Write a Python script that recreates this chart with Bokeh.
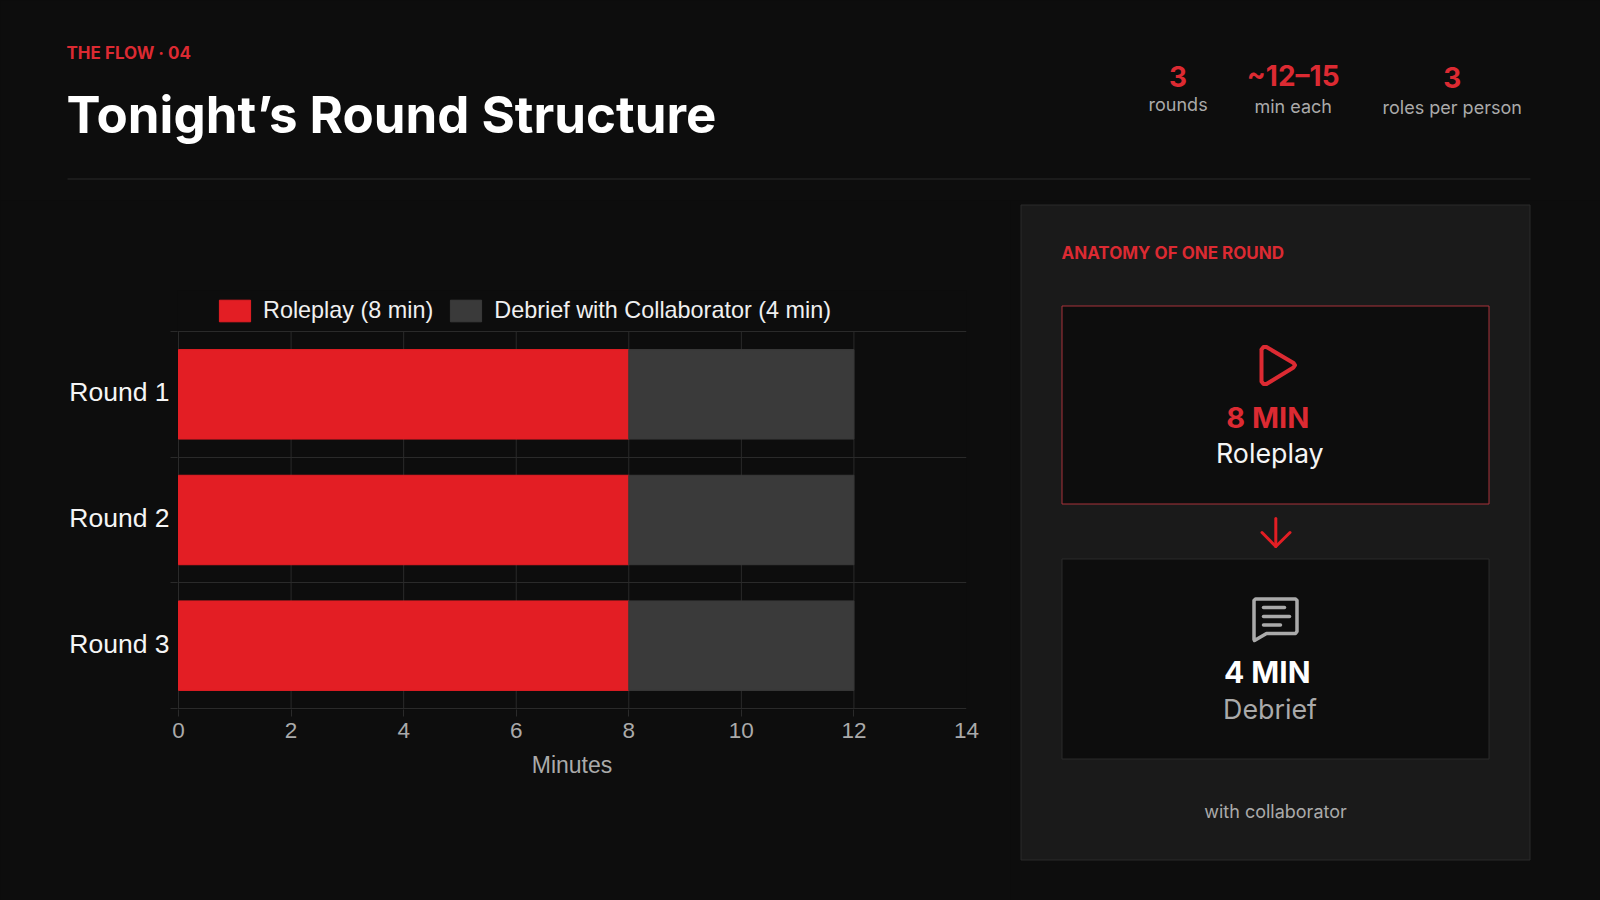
from bokeh.core.properties import value
from bokeh.embed import file_html
from bokeh.layouts import column, row
from bokeh.resources import INLINE
from bokeh.plotting import figure
from bokeh.models import ColumnDataSource, Range1d, FixedTicker, Legend, LegendItem, Grid

ROUNDS = ["Round 1", "Round 2", "Round 3"]
ROLEPLAY = [8, 8, 8]
DEBRIEF = [4, 4, 4]
X_TICKS = [0, 2, 4, 6, 8, 10, 12, 14]
X_GRID = [0, 2, 4, 6, 8, 10, 12]
LEGEND = ["Roleplay (8 min)", "Debrief with Collaborator (4 min)"]
STATS = [("3", "rounds"), ("~12–15", "min each"), ("3", "roles per person")]

BG = "#0d0d0d"; PANEL = "#1a1a1a"; GRID = "#2a2a2a"; RED = "#e31e24"; TRED = "#dc2a32"
DARK = "#3a3a3a"; MUTED = "#aaaaaa"; WHITE = "#ffffff"
HEAD_H = 200
SPLIT = 1010


def canvas(x0, x1, y0, y1):
    """A decoration figure whose data coordinates are page pixels."""
    f = figure(width=x1 - x0, height=y1 - y0, output_backend="svg", toolbar_location=None,
               x_range=Range1d(x0, x1), y_range=Range1d(y1, y0), x_axis_location=None, y_axis_location=None,
               min_border=0, background_fill_color=BG, border_fill_color=BG, outline_line_color=None,
               frame_align=False)
    f.grid.visible = False
    return f


def text(f, x, y, t, size, color, style="normal", align="left", font="Inter"):
    f.text(x=[x], y=[y], text=[t], text_font=value(font), text_font_size=value(f"{size}px"),
           text_font_style=style, text_color=color, text_align=align, text_baseline="middle")


def box(f, l, t, r_, b, fill, line, lw=1):
    f.quad(left=[l], right=[r_], top=[t], bottom=[b], fill_color=fill, line_color=line, line_width=lw)


def stroke(f, xs, ys, color, lw):
    f.line(xs, ys, line_color=color, line_width=lw, line_join="round", line_cap="round")


# header
head = canvas(0, 1600, 0, HEAD_H)
text(head, 66, 52.5, "THE FLOW · 04", 17, TRED, "bold")
text(head, 66, 114, "Tonight’s Round Structure", 51, WHITE, "bold")
box(head, 67, 178, 1530, 179, GRID, None, 0)
for (cx, vy, ly), (v, l) in zip([(1177.6, 75.5, 104), (1292.7, 75.5, 105.7), (1451.7, 76.5, 107.3)], STATS):
    text(head, cx, vy, v, 28, TRED, "bold", "center")
    text(head, cx, ly, l, 18, MUTED, "normal", "center")

# chart: the frame starts above the first band so that the legend can sit inside it,
# and ends just past the last band and left of zero so that the edge lines are not clipped
BAND_TOP = -0.3263
BAND_END = 3.008
X_START = -0.018
LABEL_NUDGE = 0.016
src = ColumnDataSource(dict(y=[i + 0.5 for i in range(len(ROUNDS))], rp=ROLEPLAY, db=DEBRIEF))
p = figure(width=SPLIT, height=900 - HEAD_H, output_backend="svg", toolbar_location=None,
           x_range=Range1d(X_START, 14), y_range=Range1d(BAND_END, BAND_TOP),
           min_border_left=177, min_border_right=44, min_border_top=90, min_border_bottom=191,
           background_fill_color=BG, border_fill_color=BG, outline_line_color=None,
           x_axis_label="Minutes", frame_align=False)
p.grid.visible = False
p.segment(x0=X_GRID, x1=X_GRID, y0=[0] * len(X_GRID), y1=[len(ROUNDS)] * len(X_GRID), line_color=GRID, level="underlay")
r = p.hbar_stack(["rp", "db"], y="y", height=0.712, color=[RED, DARK], source=src)
p.add_layout(Grid(dimension=1, ticker=FixedTicker(ticks=[], minor_ticks=[0, 1, 2, 3]), grid_line_color=None,
                  minor_grid_line_color=GRID, level="underlay"))
xa = p.xaxis[0]
xa.ticker = FixedTicker(ticks=X_TICKS, minor_ticks=X_GRID)
xa.axis_line_color = None
xa.major_tick_line_color = None
xa.minor_tick_line_color = GRID
xa.minor_tick_out = 7; xa.minor_tick_in = 0
xa.major_label_text_color = MUTED
xa.major_label_text_font = "Liberation Sans"
xa.major_label_text_font_size = "22.5px"
xa.major_label_standoff = 6
xa.axis_label_text_color = MUTED
xa.axis_label_text_font = "Liberation Sans"
xa.axis_label_text_font_style = "normal"
xa.axis_label_text_font_size = "23px"
xa.axis_label_standoff = 11
ya = p.yaxis[0]
label_ticks = [i + 0.5 - LABEL_NUDGE for i in range(len(ROUNDS))]
ya.ticker = FixedTicker(ticks=label_ticks, minor_ticks=[0, 1, 2, 3])
ya.major_label_overrides = dict(zip(label_ticks, ROUNDS))
ya.axis_line_color = None
ya.major_tick_line_color = None
ya.minor_tick_line_color = GRID
ya.minor_tick_out = 7; ya.minor_tick_in = 0
ya.major_label_text_color = "#f5f5f5"
ya.major_label_text_font = "Liberation Sans"
ya.major_label_text_font_size = "26.5px"
ya.major_label_standoff = 1
legend = Legend(items=[LegendItem(label=LEGEND[0], renderers=[r[0]]), LegendItem(label=LEGEND[1], renderers=[r[1]])],
                orientation="horizontal", location=(38, 385), padding=0, margin=0, spacing=13,
                glyph_width=39, glyph_height=27, label_standoff=9, label_height=27,
                background_fill_alpha=0, border_line_color=None,
                label_text_color="#f0f0f0", label_text_font="Liberation Sans", label_text_font_size="23.4px")
p.add_layout(legend, "center")

# right panel
side = canvas(SPLIT, 1600, HEAD_H, 900)
box(side, 1020.5, 204.5, 1529.5, 859.5, PANEL, GRID, 1)
text(side, 1061, 252, "ANATOMY OF ONE ROUND", 17, TRED, "bold")
box(side, 1061.5, 305.5, 1488.5, 503.5, BG, "#a8323a", 1)
box(side, 1061.5, 558.5, 1488.5, 758.5, BG, GRID, 1)
stroke(side, [1261, 1263, 1266, 1293, 1294.5, 1293, 1266, 1263, 1261, 1261],
       [349, 346.5, 346.5, 362.5, 364.7, 367, 383.5, 383.5, 381, 349], TRED, 4)
text(side, 1267.3, 417.3, "8 MIN", 29, TRED, "bold", "center")
text(side, 1269.3, 452.6, "Roleplay", 26.8, "#f5f5f5", "normal", "center")
stroke(side, [1275.3, 1275.3], [518, 546], RED, 3)
stroke(side, [1261.5, 1275.3, 1289.5], [532, 546, 532], RED, 3)
stroke(side, [1255, 1295, 1296.5, 1296.5, 1295, 1266, 1254, 1253.5, 1253.5, 1255],
       [598.5, 598.5, 600, 631, 633, 633, 640, 639, 600, 598.5], MUTED, 3.5)
for x0, x1, y in [(1263, 1284, 607), (1263, 1289, 616), (1263, 1280, 624.5)]:
    stroke(side, [x0, x1], [y, y], MUTED, 3.5)
text(side, 1266.7, 671.7, "4 MIN", 30, WHITE, "bold", "center")
text(side, 1269.5, 708, "Debrief", 26.8, MUTED, "normal", "center")
text(side, 1275, 810.7, "with collaborator", 18, MUTED, "normal", "center")

page = column(head, row(p, side, spacing=0), spacing=0)
html = file_html(page, INLINE)
html = html.replace("<head>", f"<head><style>html,body{{background:{BG};margin:0;overflow:hidden;}}</style>", 1)
open("out.html", "w").write(html)
